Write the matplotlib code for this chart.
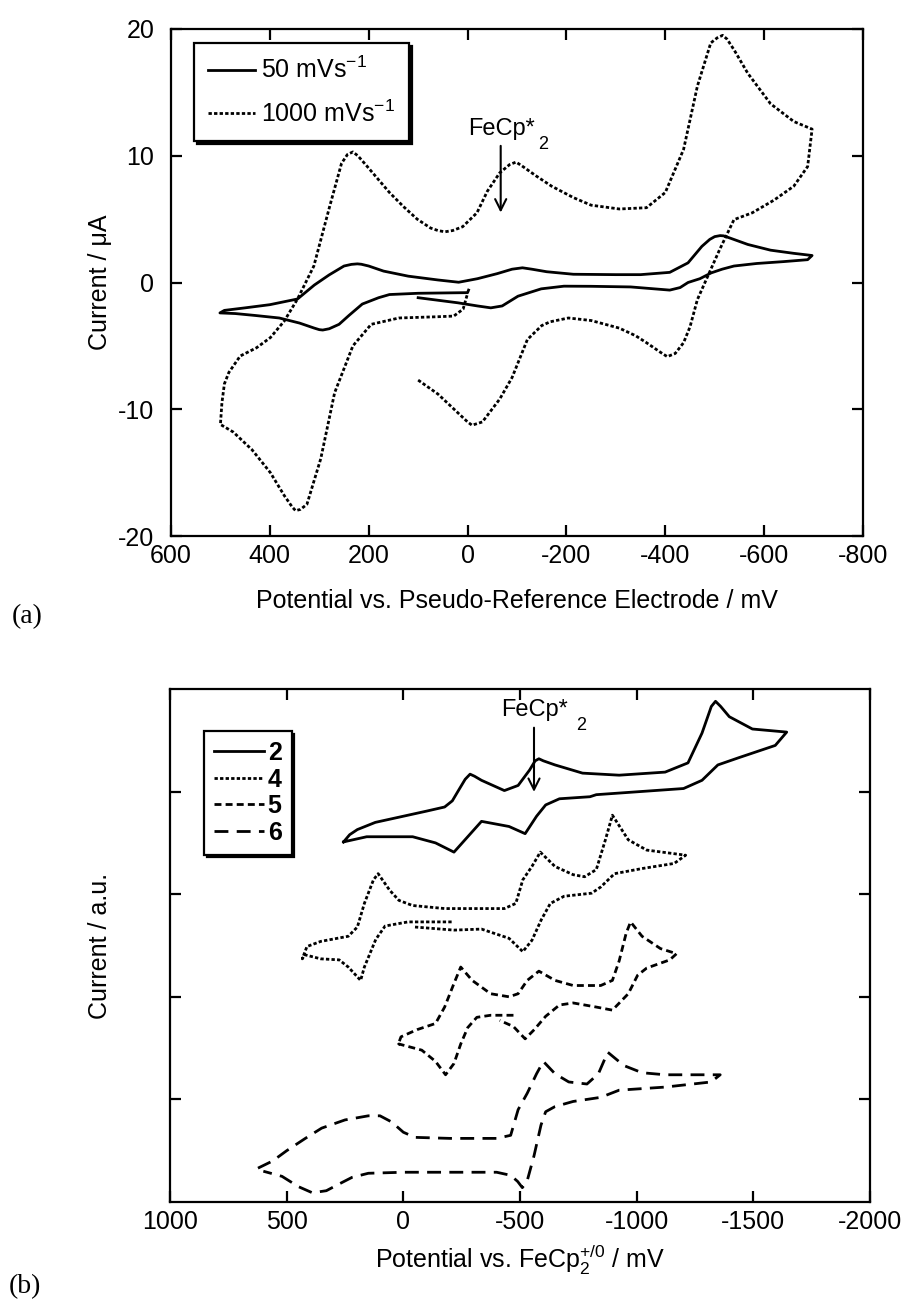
import matplotlib
matplotlib.use('Agg')
import matplotlib.pyplot as plt

plt.rcParams['font.family'] = ['Liberation Sans', 'DejaVu Sans']
plt.rcParams['mathtext.fontset'] = 'custom'
plt.rcParams['mathtext.rm'] = 'Liberation Sans'
plt.rcParams['mathtext.it'] = 'Liberation Sans:italic'
plt.rcParams['mathtext.bf'] = 'Liberation Sans:bold'
plt.rcParams['axes.unicode_minus'] = False

# ---- (a) CV of one compound at two scan rates (mV, uA) ----
slow_x = [100, 60, 20, -20, -47, -70, -102, -149, -195, -250, -330, -409, -430, -446, -470, -493,
          -515, -539, -585, -640, -688, -697,
          -660, -613, -567, -530, -518, -511, -500, -490, -474, -446, -409, -350, -300, -214, -160,
          -130, -111, -90, -60, -20, 18, 60, 120, 170, 200, 215, 223, 235, 250, 280, 310, 344,
          400, 450, 492, 501,
          470, 430, 381, 340, 310, 300, 293, 280, 260, 240, 213, 180, 158, 100, 40, 0, -2]
slow_y = [-1.2, -1.4, -1.6, -1.85, -2.0, -1.85, -1.08, -0.5, -0.29, -0.3, -0.35, -0.6, -0.4, 0.0, 0.3, 0.76,
          1.05, 1.3, 1.5, 1.65, 1.8, 2.13,
          2.3, 2.55, 3.0, 3.52, 3.68, 3.7, 3.62, 3.4, 2.85, 1.55, 0.8, 0.62, 0.62, 0.65, 0.85,
          1.05, 1.16, 1.05, 0.7, 0.3, 0.02, 0.2, 0.5, 0.9, 1.3, 1.44, 1.47, 1.43, 1.3, 0.6, -0.2, -1.3,
          -1.75, -2.0, -2.2, -2.4,
          -2.45, -2.6, -2.8, -3.2, -3.6, -3.72, -3.75, -3.65, -3.3, -2.6, -1.7, -1.2, -0.95, -0.85, -0.82, -0.8, -0.6]

fast_x = [100, 60, 30, 0, -9, -30, -65, -90, -121, -150, -167, -204, -250, -307, -340, -362,
          -390, -404, -420, -437, -450, -465, -483, -510, -539, -576, -620, -660, -688, -697,
          -660, -613, -567, -540, -525, -516, -505, -492, -465, -437, -400, -362, -307, -250, -214, -170,
          -139, -110, -98, -85, -65, -40, -19, 10, 30, 46, 60, 75, 102, 130, 158, 204, 222, 232, 243, 255,
          279, 311, 344, 371, 399, 427, 460, 483, 492, 497, 500,
          474, 436, 399, 371, 355, 348, 338, 325, 297, 269, 232, 195, 139, 60, 28, 9, 1]
fast_y = [-7.7, -8.8, -9.9, -11.0, -11.26, -11.0, -9.2, -7.5, -4.5, -3.4, -3.1, -2.8, -3.0, -3.6, -4.2, -4.75,
          -5.5, -5.85, -5.6, -4.75, -3.5, -1.34, 0.24, 2.6, 4.96, 5.5, 6.5, 7.6, 9.15, 12.1,
          12.7, 14.1, 16.5, 18.3, 19.2, 19.5, 19.3, 18.9, 15.5, 10.5, 7.1, 5.9, 5.8, 6.1, 6.7, 7.6,
          8.4, 9.2, 9.5, 9.3, 8.65, 7.2, 5.5, 4.4, 4.1, 4.0, 4.1, 4.3, 5.0, 6.0, 7.1, 9.2, 10.0, 10.3, 10.1, 9.4,
          6.0, 1.3, -1.3, -3.05, -4.35, -5.15, -5.8, -7.1, -8.0, -9.5, -11.2,
          -11.8, -13.2, -15.0, -16.8, -17.7, -18.0, -17.9, -17.5, -13.9, -8.7, -5.0, -3.3, -2.8, -2.7, -2.65, -2.1, -1.0]

rate_labels = ['50 mVs$^{-1}$', '1000 mVs$^{-1}$']

# ---- (b) CVs of compounds 2, 4, 5, 6 (mV vs FeCp2, arbitrary offset current) ----
c2_x = [256, 230, 197, 120, 20, -100, -177, -210, -236, -265, -286, -305, -335, -433, -492, -541, -565, -581,
        -600, -650, -768, -925, -1122, -1220, -1280, -1320, -1338, -1360, -1397, -1496, -1643,
        -1594, -1437, -1348, -1280, -1201, -827, -800, -669, -610, -571, -522, -453, -335,
        -276, -217, -138, -40, 157, 256]
c2_y = [3.51, 3.58, 3.63, 3.7, 3.75, 3.81, 3.85, 3.91, 4.01, 4.12, 4.17, 4.15, 4.11, 4.01, 4.06, 4.21, 4.3, 4.32,
        4.3, 4.26, 4.18, 4.16, 4.19, 4.28, 4.57, 4.83, 4.88, 4.83, 4.73, 4.61, 4.58,
        4.45, 4.33, 4.26, 4.11, 4.03, 3.97, 3.95, 3.93, 3.87, 3.76, 3.59, 3.66, 3.71,
        3.56, 3.41, 3.5, 3.56, 3.56, 3.51]

c4_x = [-207, -20, 78, 118, 167, 183, 236, 275, 354, 423, 433,
        413, 354, 236, 197, 167, 128, 108, 59, 19, -39, -177, -433, -482, -512, -551, -587,
        -650, -728, -777, -827, -866, -896, -964, -1043, -1210,
        -1161, -1023, -905, -846, -807, -689, -630, -591, -551, -512, -453, -335, -217, -50]
c4_y = [2.73, 2.73, 2.69, 2.56, 2.29, 2.16, 2.29, 2.36, 2.37, 2.41, 2.37,
        2.49, 2.54, 2.59, 2.68, 2.91, 3.14, 3.2, 3.04, 2.94, 2.89, 2.86, 2.86, 2.91, 3.14, 3.27, 3.41,
        3.27, 3.19, 3.17, 3.24, 3.53, 3.77, 3.53, 3.43, 3.38,
        3.3, 3.25, 3.2, 3.07, 3.01, 2.98, 2.91, 2.75, 2.55, 2.44, 2.57, 2.66, 2.65, 2.68]

c5_x = [-472, -374, -315, -276, -246, -217, -181, -138, -79, 19, 23,
        10, -59, -138, -177, -217, -246, -295, -374, -453, -492, -531, -581, -650, -728,
        -846, -896, -925, -955, -974, -1023, -1102, -1171,
        -1142, -1043, -1004, -964, -896, -827, -728, -669, -610, -561, -522, -472, -413]
c5_y = [1.82, 1.82, 1.8, 1.7, 1.54, 1.35, 1.24, 1.37, 1.48, 1.54, 1.53,
        1.61, 1.68, 1.74, 1.9, 2.13, 2.29, 2.16, 2.03, 2.0, 2.03, 2.16, 2.25, 2.16, 2.11,
        2.11, 2.16, 2.35, 2.62, 2.73, 2.59, 2.47, 2.42,
        2.36, 2.28, 2.21, 2.03, 1.87, 1.9, 1.94, 1.92, 1.81, 1.68, 1.59, 1.71, 1.77]

c6_x = [623, 560, 500, 420, 350, 250, 150, 100, 50, 0, -50, -200, -400, -460, -492, -531, -571, -600,
        -650, -709, -787, -836, -876, -945, -1023, -1122, -1358,
        -1319, -1122, -925, -846, -728, -650, -610, -590, -560, -530, -510, -490, -460, -400,
        -200, 0, 150, 220, 280, 330, 390, 450, 520, 600]
c6_y = [0.33, 0.4, 0.5, 0.62, 0.72, 0.8, 0.84, 0.84, 0.78, 0.68, 0.63, 0.62, 0.62, 0.65, 0.9, 1.06, 1.25, 1.37,
        1.25, 1.17, 1.15, 1.25, 1.46, 1.33, 1.26, 1.24, 1.24,
        1.17, 1.12, 1.09, 1.02, 0.98, 0.93, 0.88, 0.75, 0.45, 0.2, 0.14, 0.2, 0.26, 0.29,
        0.29, 0.29, 0.28, 0.24, 0.17, 0.11, 0.09, 0.15, 0.25, 0.3]

cmp_labels = ['2', '4', '5', '6']


fig = plt.figure(figsize=(9.05, 13), dpi=100)

# General styling of one panel (boxed, inward ticks on every side)
def style_axes(ax):
    for sp in ax.spines.values():
        sp.set_linewidth(1.6)
    ax.tick_params(direction='in', length=8, width=1.6, top=True, right=True,
                   labelsize=18, pad=6)
    ax.tick_params(axis='y', pad=12)


# ---------------- panel (a) ----------------
ax1 = fig.add_axes([171 / 905, 1 - 536 / 1300, 692 / 905, 507 / 1300])
ax1.plot(slow_x, slow_y, color='black', lw=2.0, label=rate_labels[0])
ax1.plot(fast_x, fast_y, color='black', lw=2.0, ls=(0, (1.2, 0.8)), label=rate_labels[1])
ax1.set_xlim(600, -800)
ax1.set_ylim(-20, 20)
ax1.set_xticks([600, 400, 200, 0, -200, -400, -600, -800])
ax1.set_yticks([-20, -10, 0, 10, 20])
style_axes(ax1)
ax1.set_xlabel('Potential vs. Pseudo-Reference Electrode / mV', fontsize=18, labelpad=15)
ax1.set_ylabel('Current / \u03bcA', fontsize=18)
ax1.yaxis.set_label_coords(-0.085, 0.5)
leg1 = ax1.legend(loc='upper left', bbox_to_anchor=(0.033, 0.972), fontsize=18, frameon=True,
                  fancybox=False, edgecolor='black', framealpha=1, borderaxespad=0,
                  shadow={'color': 'black', 'alpha': 1}, handlelength=1.9, handletextpad=0.25,
                  borderpad=0.55, labelspacing=0.7)
leg1.get_frame().set_linewidth(1.6)
ax1.annotate('', xy=(-67, 5.3), xytext=(-67, 11.0),
             arrowprops=dict(arrowstyle='->', color='black', lw=1.5, mutation_scale=20))
ax1.text(-2, 11.6, 'FeCp*', fontsize=17, ha='left', va='baseline')
ax1.text(-142, 10.5, '2', fontsize=13, ha='left', va='baseline')

# ---------------- panel (b) ----------------
ax2 = fig.add_axes([170 / 905, 1 - 1202 / 1300, 700 / 905, 513 / 1300])
ax2.plot(c2_x, c2_y, color='black', lw=2.0, label=cmp_labels[0])
ax2.plot(c4_x, c4_y, color='black', lw=2.0, ls=(0, (1.2, 0.8)), label=cmp_labels[1])
ax2.plot(c5_x, c5_y, color='black', lw=2.0, ls=(0, (2.5, 1.5)), label=cmp_labels[2])
ax2.plot(c6_x, c6_y, color='black', lw=2.0, ls=(0, (5, 3)), label=cmp_labels[3])
ax2.set_xlim(1000, -2000)
ax2.set_ylim(0, 5)
ax2.set_xticks([1000, 500, 0, -500, -1000, -1500, -2000])
ax2.set_yticks([1, 2, 3, 4])
ax2.set_yticklabels([])
style_axes(ax2)
ax2.set_xlabel('Potential vs. FeCp$_2^{+/0}$ / mV', fontsize=18, labelpad=6)
ax2.set_ylabel('Current / a.u.', fontsize=18)
ax2.yaxis.set_label_coords(-0.083, 0.5)
leg2 = ax2.legend(loc='upper left', bbox_to_anchor=(0.0486, 0.918), frameon=True,
                  fancybox=False, edgecolor='black', framealpha=1, borderaxespad=0,
                  shadow={'color': 'black', 'alpha': 1}, handlelength=2.0, handletextpad=0.15,
                  borderpad=0.4, labelspacing=0.1, prop={'weight': 'bold', 'size': 18})
leg2.get_frame().set_linewidth(1.6)
ax2.annotate('', xy=(-560, 3.97), xytext=(-560, 4.65),
             arrowprops=dict(arrowstyle='->', color='black', lw=1.5, mutation_scale=20))
ax2.text(-420, 4.74, 'FeCp*', fontsize=17, ha='left', va='baseline')
ax2.text(-740, 4.6, '2', fontsize=13, ha='left', va='baseline')

# panel letters
fig.text(0.013, 1 - 617 / 1300, '(a)', fontsize=20, family='Liberation Serif', va='center')
fig.text(0.010, 1 - 1287 / 1300, '(b)', fontsize=20, family='Liberation Serif', va='center')

fig.savefig('out.png', dpi=100)
